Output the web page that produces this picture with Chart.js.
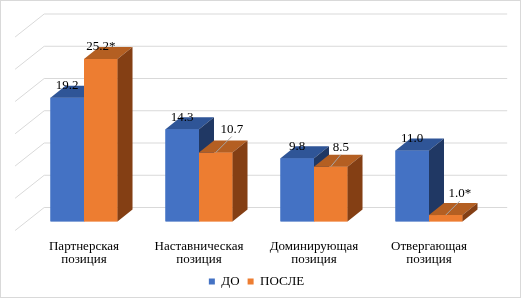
<!DOCTYPE html>
<html lang="ru">
<head>
<meta charset="utf-8">
<title>Позиции ДО / ПОСЛЕ</title>
<script src="https://cdn.jsdelivr.net/npm/chart.js@4.4.1/dist/chart.umd.min.js"></script>
<style>
  html, body { margin: 0; padding: 0; background: #ffffff; }
  #wrap { width: 522px; height: 298px; position: relative; }
</style>
</head>
<body>
<div id="wrap"><canvas id="pos-chart" width="522" height="298"></canvas></div>

<script>
  // Данные диаграммы
  const categories = [
    ["Партнерская", "позиция"],
    ["Наставническая", "позиция"],
    ["Доминирующая", "позиция"],
    ["Отвергающая", "позиция"],
  ];
  const seriesNames = ["ДО", "ПОСЛЕ"];
  const valuesBefore = [19.2, 14.3, 9.8, 11.0];
  const valuesAfter = [25.2, 10.7, 8.5, 1.0];
  const labelsBefore = ["19.2", "14.3", "9.8", "11.0"];
  const labelsAfter = ["25.2*", "10.7", "8.5", "1.0*"];
  const yTicks = [0, 5, 10, 15, 20, 25, 30];

  // Оформление (цвета граней и сдвиги подписей)
  const faces = [
    { front: "#4472c4", top: "#2f5597", side: "#203864" },
    { front: "#ed7d31", top: "#b45f22", side: "#843f14" },
  ];
  const labelNudge = [
    [[0, 0], [0, 0], [0, 0], [0, 0]],
    [[0, 0], [16, -11], [10, -7], [14, -9]],
  ];
  const depth = { dx: 15, dy: 12 }; // глубина столбика
  const wall = { dx: 17.7, dy: 14, front: 9 }; // задняя стенка и край пола
  const serif = "'Liberation Serif', 'Times New Roman', serif";

  Chart.defaults.font.family = serif;
  Chart.defaults.color = "#000000";

  // Задняя стенка: линии сетки + диагонали слева
  const wallGrid = {
    id: "wallGrid",
    beforeDatasetsDraw(chart) {
      const c = chart.ctx;
      const y = chart.scales.y;
      const left = chart.chartArea.left;
      c.save();
      c.strokeStyle = "#d9d9d9";
      c.lineWidth = 1;
      yTicks.forEach((v) => {
        const py = y.getPixelForValue(v);
        c.beginPath();
        c.moveTo(left - wall.front * (wall.dx / wall.dy), py + wall.front);
        c.lineTo(left + wall.dx, py - wall.dy);
        c.lineTo(chart.chartArea.right + wall.dx + 3, py - wall.dy);
        c.stroke();
      });
      c.restore();
    },
  };

  // Объёмные столбики: по категориям слева направо, ДО затем ПОСЛЕ
  const bar3d = {
    id: "bar3d",
    afterDatasetsDraw(chart) {
      const c = chart.ctx;
      const metas = chart.data.datasets.map((ds, di) => chart.getDatasetMeta(di));
      c.save();
      categories.forEach((cat, i) => {
        metas.forEach((meta, di) => {
          const f = faces[di];
          const p = meta.data[i].getProps(["x", "y", "base", "width"], true);
          const l = p.x - p.width / 2;
          const r = p.x + p.width / 2;
          // передняя грань
          c.fillStyle = f.front;
          c.fillRect(l, p.y, r - l, p.base - p.y);
          // верх
          c.fillStyle = f.top;
          c.beginPath();
          c.moveTo(l, p.y);
          c.lineTo(r, p.y);
          c.lineTo(r + depth.dx, p.y - depth.dy);
          c.lineTo(l + depth.dx, p.y - depth.dy);
          c.closePath();
          c.fill();
          // бок
          c.fillStyle = f.side;
          c.beginPath();
          c.moveTo(r, p.y);
          c.lineTo(r + depth.dx, p.y - depth.dy);
          c.lineTo(r + depth.dx, p.base - depth.dy);
          c.lineTo(r, p.base);
          c.closePath();
          c.fill();
        });
      });
      c.restore();
    },
  };

  // Подписи значений (+ выноски) и рамка
  const valueLabels = {
    id: "valueLabels",
    afterDraw(chart) {
      const c = chart.ctx;
      const texts = [labelsBefore, labelsAfter];
      c.save();
      c.font = "13px " + serif;
      c.textAlign = "center";
      c.textBaseline = "middle";
      chart.data.datasets.forEach((ds, di) => {
        chart.getDatasetMeta(di).data.forEach((bar, i) => {
          const n = labelNudge[di][i];
          const tx = bar.x + n[0];
          const ty = bar.y - 12 + n[1];
          if (n[0] || n[1]) {
            c.strokeStyle = "#a6a6a6";
            c.lineWidth = 1;
            c.beginPath();
            c.moveTo(tx, ty + 7);
            c.lineTo(bar.x, bar.y);
            c.stroke();
          }
          c.fillStyle = "#000000";
          c.fillText(texts[di][i], tx, ty);
        });
      });
      c.strokeStyle = "#d9d9d9";
      c.strokeRect(0.5, 0.5, 520, 297);
      c.restore();
    },
  };

  const ctx = document.getElementById("pos-chart").getContext("2d");
  new Chart(ctx, {
    type: "bar",
    data: {
      labels: categories,
      datasets: [
        { label: seriesNames[0], data: valuesBefore, backgroundColor: faces[0].front },
        { label: seriesNames[1], data: valuesAfter, backgroundColor: faces[1].front },
      ],
    },
    options: {
      responsive: false,
      animation: false,
      categoryPercentage: 0.583,
      barPercentage: 1,
      layout: { padding: { left: 26.5, right: 35.5, top: 28, bottom: 0 } },
      plugins: {
        legend: {
          position: "bottom",
          labels: {
            boxWidth: 6,
            boxHeight: 6,
            padding: 8,
            font: { size: 13 },
          },
        },
        tooltip: { enabled: false },
      },
      scales: {
        x: {
          grid: { display: false, drawTicks: false },
          border: { display: false },
          ticks: { padding: 18, font: { size: 13, lineHeight: 1.05 } },
          afterFit: (s) => { s.height = 45.5; },
        },
        y: {
          display: false,
          min: 0,
          max: 30,
        },
      },
    },
    plugins: [wallGrid, bar3d, valueLabels],
  });
</script>
</body>
</html>
